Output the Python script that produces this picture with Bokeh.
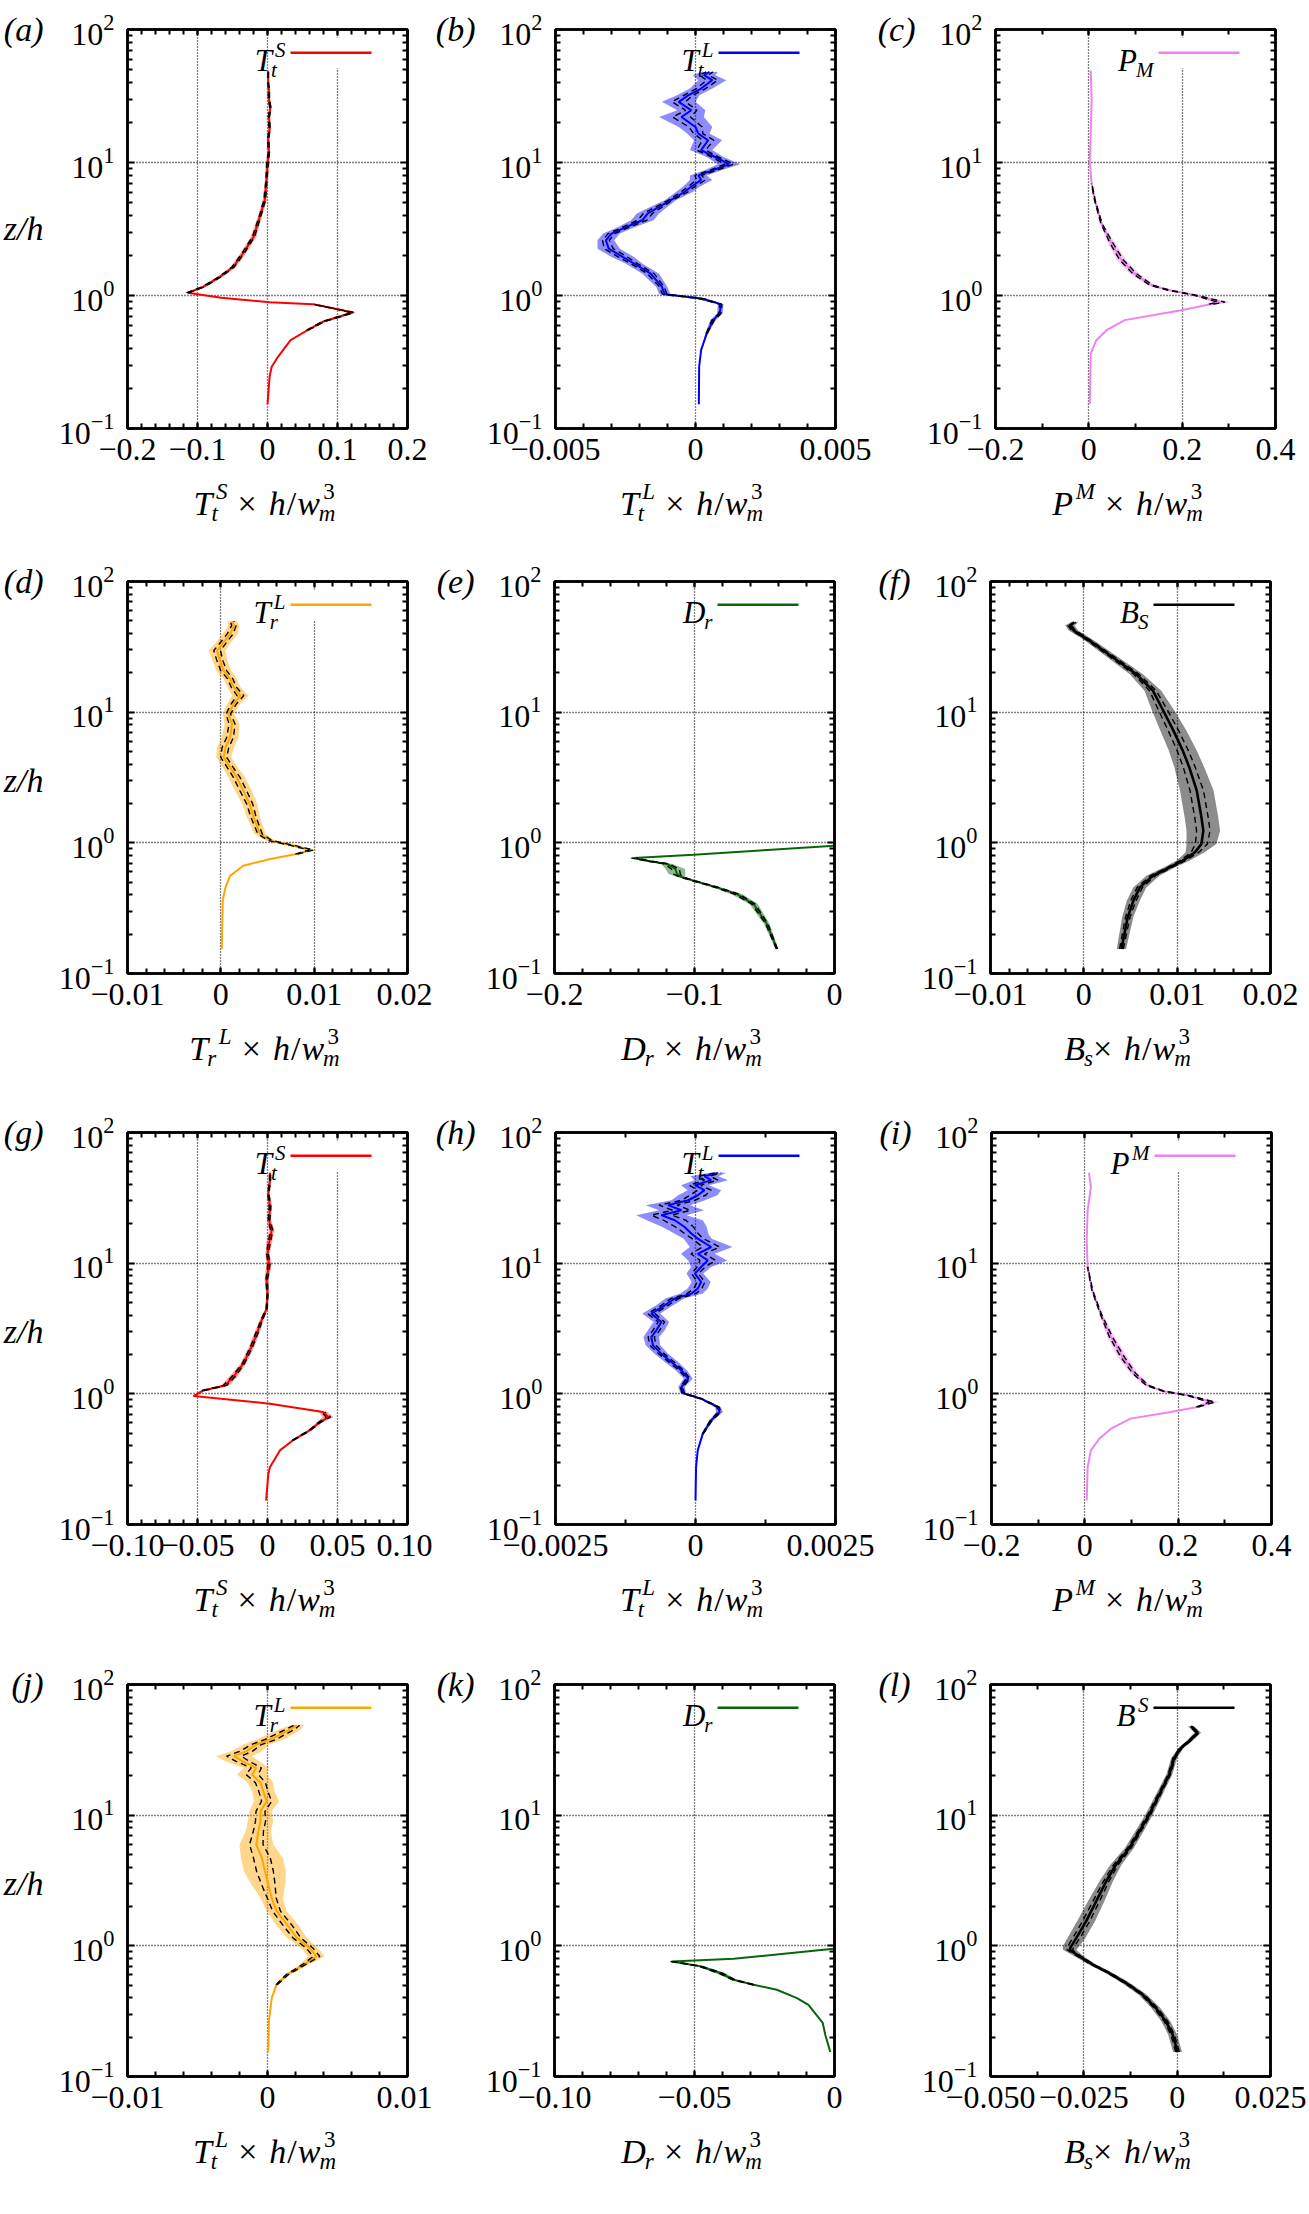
from bokeh.plotting import figure
from bokeh.layouts import row, column
from bokeh.models import (Range1d, FixedTicker, SingleIntervalTicker, LinearAxis, LogAxis,
                          CustomJSTickFormatter, Label, BoxAnnotation)
from bokeh.embed import file_html
from bokeh.resources import INLINE

SERIF = "Liberation Serif"

# ---- profiles: z/h, mean value, spread (half width of the shaded band) ----
a_z = [0.152, 0.245, 0.291, 0.346, 0.461, 0.548, 0.634, 0.745, 0.861, 0.891, 0.96, 1.047, 1.16, 1.38, 1.64, 2.07,
       2.76, 3.9, 5.2, 7.4, 9.8, 12, 15, 18, 22, 26, 30, 35, 40, 45, 49]
a_x = [0, 0.003, 0.006, 0.015, 0.033, 0.057, 0.079, 0.122, 0.065, 0.003, -0.066, -0.114, -0.092, -0.068, -0.049,
       -0.035, -0.020, -0.011, -0.004, -0.0015, 0.0, 0.002, 0.001, 0.003, 0.002, 0.004, 0.002, 0.002, 0.001, 0.001, 0.001]
a_s = [0, 0, 0, 0, 0, 0.003, 0.004, 0.005, 0.003, 0, 0, 0.004, 0.004, 0.004, 0.004, 0.004,
       0.004, 0.003, 0.003, 0.002, 0.003, 0.002, 0.002, 0.002, 0.002, 0.002, 0.002, 0.002, 0.001, 0.001, 0.001]

b_z = [0.152, 0.291, 0.388, 0.518, 0.653, 0.733, 0.861, 0.948, 1.02, 1.16, 1.46, 1.74, 1.95, 2.25, 2.6, 2.92, 3.25,
       3.68, 4.14, 4.64, 5.2, 6.0, 6.6, 7.4, 8.0, 8.7, 9.7, 11.0, 12.4, 14.7, 16.5, 18.5, 22, 24.7, 28.6, 32, 36,
       41.6, 45.4, 48]
b_x = [0.00012, 0.00013, 0.0002, 0.0004, 0.00063, 0.00087, 0.0009, 0.0002, -0.0011, -0.0012, -0.0016, -0.0022,
       -0.0026, -0.0031, -0.0032, -0.003, -0.0025, -0.0019, -0.0017, -0.0013, -0.0009, -0.0004, -0.00014, 0.0002,
       0.0001, 0.0006, 0.0012, 0.0007, 0.0002, 0.00045, 0.0001, 0.0, -0.0005, -0.00015, -0.0006, -0.00026, 0.0002,
       0.0006, 0.0003, 0.0005]
b_s = [0, 0, 0, 0.00005, 0.0001, 0.0001, 0.0001, 0.0002, 0.0002, 0.0002, 0.0003, 0.0003, 0.0004, 0.0004, 0.0003,
       0.0003, 0.0003, 0.0004, 0.0004, 0.0003, 0.0002, 0.0003, 0.0003, 0.0004, 0.0003, 0.0003, 0.0004, 0.0003,
       0.0004, 0.0005, 0.0004, 0.0006, 0.0008, 0.0005, 0.0006, 0.0004, 0.0004, 0.0005, 0.0004, 0.0003]

c_z = [0.152, 0.366, 0.461, 0.548, 0.653, 0.776, 0.861, 0.891, 1.007, 1.1, 1.195, 1.46, 1.85, 2.46, 3.48, 5.2, 6.95,
       10, 16.5, 29.4, 48.9]
c_x = [0.002, 0.004, 0.016, 0.038, 0.077, 0.198, 0.262, 0.284, 0.227, 0.17, 0.134, 0.098, 0.07, 0.049, 0.027, 0.013,
       0.006, 0.002, 0.004, 0.006, 0.004]
c_s = [0, 0, 0, 0, 0, 0, 0.012, 0.02, 0.006, 0.006, 0.008, 0.01, 0.01, 0.008, 0.003, 0.002, 0.001, 0, 0, 0, 0]

d_z = [0.154, 0.36, 0.456, 0.56, 0.668, 0.751, 0.82, 0.881, 0.951, 1.04, 1.17, 1.57, 1.98, 2.51, 3.17, 3.78, 4.52,
       5.38, 6.43, 8.13, 9.7, 11.6, 13.4, 15.5, 18, 20.8, 24.8, 29.6, 34.3, 39.7, 46, 49.7]
d_x = [0.0001, 0.0002, 0.0005, 0.001, 0.0024, 0.0053, 0.0081, 0.0097, 0.0078, 0.0053, 0.0042, 0.0035, 0.0031,
       0.0024, 0.0017, 0.001, 0.0003, 0.0005, 0.001, 0.0012, 0.0008, 0.0014, 0.0021, 0.0014, 0.001, 0.0003, -0.0001,
       -0.0004, 0.0003, 0.001, 0.0014, 0.0012]
d_s = [0, 0, 0, 0, 0, 0, 0.0003, 0.0006, 0.0005, 0.0005, 0.0006, 0.0007, 0.0008, 0.0009, 0.0009, 0.0008, 0.0008,
       0.0009, 0.0009, 0.0008, 0.0006, 0.0007, 0.0009, 0.0007, 0.0007, 0.0008, 0.0008, 0.0009, 0.0008, 0.0008,
       0.0006, 0.0005]

e_z = [0.154, 0.239, 0.34, 0.405, 0.456, 0.513, 0.551, 0.577, 0.631, 0.689, 0.73, 0.766, 0.811, 0.881, 0.951]
e_x = [-0.0411, -0.0483, -0.0578, -0.0697, -0.084, -0.1006, -0.11, -0.1125, -0.1137, -0.1196, -0.134, -0.1434,
       -0.1006, -0.048, 0.0]
e_s = [0.001, 0.002, 0.003, 0.004, 0.003, 0.002, 0.003, 0.006, 0.007, 0.004, 0.003, 0.004, 0, 0, 0]

f_z = [0.154, 0.269, 0.36, 0.456, 0.56, 0.649, 0.73, 0.845, 0.98, 1.24, 1.57, 2.51, 3.78, 5.08, 7.22, 10.3, 14.6,
       19.6, 26.3, 35.3, 42.2, 46, 48.8]
f_x = [0.00403, 0.0047, 0.0053, 0.006, 0.0074, 0.0092, 0.0106, 0.0119, 0.0126, 0.0128, 0.0126, 0.0121, 0.0113,
       0.0106, 0.0096, 0.0085, 0.0074, 0.0056, 0.0031, 0.0006, -0.0011, -0.0015, -0.001]
f_s = [0.0005, 0.0006, 0.0007, 0.0007, 0.0007, 0.0006, 0.0007, 0.001, 0.0016, 0.0018, 0.0018, 0.0018, 0.0016,
       0.0015, 0.0014, 0.0012, 0.0009, 0.0007, 0.0006, 0.0005, 0.0005, 0.0005, 0.0004]

g_z = [0.153, 0.244, 0.275, 0.369, 0.44, 0.525, 0.608, 0.664, 0.726, 0.84, 0.962, 1.06, 1.16, 1.35, 1.70, 2.29,
       2.89, 3.66, 4.49, 5.85, 7.4, 9.9, 11.8, 14.1, 17.9, 21.3, 27, 34.1, 43.2, 49.1]
g_x = [-0.001, 0.0006, 0.0018, 0.0089, 0.018, 0.030, 0.0375, 0.0434, 0.0398, 0.0018, -0.0529, -0.046, -0.0303,
       -0.0244, -0.0173, -0.0114, -0.0077, -0.0042, -0.0006, 0.0, -0.0006, 0.0011, 0.0, 0.0011, 0.003, 0.0011,
       0.0018, 0.0006, 0.0018, 0.0018]
g_s = [0, 0, 0, 0, 0.001, 0.0015, 0.002, 0.004, 0.003, 0, 0, 0.002, 0.003, 0.003, 0.002, 0.002, 0.002, 0.0015,
       0.001, 0.001, 0.0015, 0.002, 0.0015, 0.002, 0.002, 0.0015, 0.0015, 0.001, 0.001, 0.001]

h_z = [0.153, 0.275, 0.369, 0.495, 0.626, 0.726, 0.793, 0.918, 1.01, 1.13, 1.31, 1.51, 1.75, 2.03, 2.35, 2.72, 3.06,
       3.55, 4.11, 4.76, 5.36, 5.85, 6.39, 7.18, 8.32, 9.35, 10.5, 11.8, 13.3, 15.4, 16.8, 19, 21.3, 23.3, 25.4,
       27.8, 30.3, 33.1, 36.2, 39.5, 43.2, 46.3, 49.1]
h_x = [0, 0.00001, 0.00004, 0.00013, 0.00028, 0.00043, 0.0004, 0.0001, -0.00022, -0.00025, -0.00013, -0.00025,
       -0.00043, -0.00061, -0.00076, -0.00079, -0.0007, -0.00061, -0.00079, -0.00055, -0.00037, -0.00007, 0.00004,
       0.0001, -0.00001, 0.0001, 0.00022, 0.00004, 0.00028, 0.00004, -0.00007, -0.0002, -0.00037, -0.00061,
       -0.00025, -0.00049, -0.00013, 0.00004, 0.00016, -0.00001, 0.00028, 0.00016, 0.0004]
h_s = [0, 0, 0, 0.00002, 0.00004, 0.00006, 0.00005, 0.00003, 0.00005, 0.00006, 0.00008, 0.0001, 0.00012, 0.00012,
       0.00013, 0.00014, 0.00015, 0.00014, 0.00016, 0.00015, 0.00017, 0.0002, 0.00018, 0.00017, 0.00015, 0.00018,
       0.00035, 0.0003, 0.00038, 0.00025, 0.0003, 0.0004, 0.0005, 0.00045, 0.0004, 0.0004, 0.0003, 0.00035, 0.0003,
       0.00025, 0.0003, 0.00025, 0.00015]

i_z = [0.153, 0.275, 0.369, 0.453, 0.541, 0.646, 0.726, 0.793, 0.865, 0.973, 1.045, 1.16, 1.43, 1.91, 2.72, 4.11,
       6.2, 9.35, 15, 25.4, 38.4, 49.1]
i_x = [0.004, 0.006, 0.013, 0.031, 0.056, 0.098, 0.184, 0.241, 0.273, 0.22, 0.17, 0.134, 0.106, 0.081, 0.056, 0.034,
       0.016, 0.006, 0.004, 0.006, 0.013, 0.009]
i_s = [0, 0, 0, 0, 0, 0, 0, 0.005, 0.015, 0.006, 0.005, 0.006, 0.008, 0.01, 0.008, 0.003, 0.002, 0.001, 0, 0, 0, 0]

j_z = [0.154, 0.264, 0.398, 0.504, 0.601, 0.717, 0.83, 0.962, 1.15, 1.45, 1.84, 2.32, 2.94, 3.72, 4.7, 5.96, 7.53,
       8.98, 10.7, 12.8, 15.2, 17.7, 20.5, 23, 25.9, 28.3, 30.9, 34.7, 37.9, 41.4, 45.2, 48.8]
j_x = [0.00006, 0.0001, 0.0003, 0.00065, 0.0014, 0.0026, 0.0035, 0.003, 0.0021, 0.0014, 0.00065, 0.0003, 0.00006,
       -0.00018, -0.0004, -0.0008, -0.00065, -0.0005, -0.0005, -0.00006, -0.0003, -0.0005, -0.0011, -0.0008,
       -0.0018, -0.0024, -0.0015, -0.0008, 0.0002, 0.0009, 0.0016, 0.0021]
j_s = [0, 0, 0, 0.0001, 0.0002, 0.0003, 0.0006, 0.0006, 0.0007, 0.0008, 0.0007, 0.0008, 0.0012, 0.0015, 0.0015,
       0.0012, 0.0009, 0.0009, 0.0008, 0.0009, 0.0008, 0.0009, 0.0011, 0.0009, 0.0012, 0.0013, 0.0011, 0.0009,
       0.001, 0.0009, 0.0008, 0.0005]

k_z = [0.154, 0.209, 0.257, 0.354, 0.398, 0.461, 0.504, 0.55, 0.619, 0.697, 0.726, 0.76, 0.796, 0.951]
k_x = [-0.0015, -0.0033, -0.0042, -0.0093, -0.0134, -0.0206, -0.0289, -0.036, -0.0408, -0.0479, -0.0527, -0.058,
       -0.036, -0.0004]
k_s = [0, 0, 0, 0, 0, 0, 0.0005, 0.001, 0.0018, 0.0012, 0.001, 0.0015, 0, 0]

l_z = [0.154, 0.209, 0.264, 0.334, 0.422, 0.519, 0.619, 0.718, 0.83, 0.933, 0.991, 1.15, 1.54, 2.19, 3.12, 4.18,
       5.61, 7.53, 10.1, 14.4, 20.5, 27.4, 32.7, 36.8, 42.7, 48]
l_x = [0.0001, -0.0012, -0.003, -0.0057, -0.0092, -0.0137, -0.0182, -0.0226, -0.0262, -0.0288, -0.0284, -0.027,
       -0.0244, -0.0217, -0.019, -0.0164, -0.0128, -0.0101, -0.0075, -0.0048, -0.0021, -0.0008, 0.001, 0.0032,
       0.0055, 0.0037]
l_s = [0.0012, 0.0012, 0.0012, 0.0012, 0.0011, 0.0011, 0.001, 0.001, 0.0012, 0.0018, 0.0022, 0.0024, 0.0024,
       0.0022, 0.0018, 0.0015, 0.0012, 0.0011, 0.001, 0.0009, 0.0008, 0.0008, 0.0007, 0.0008, 0.0009, 0.0008]

# y axis ticks (decades)
y_major = [0.1, 1, 10, 100]
y_minor = [m * 10.0 ** e for e in (-1, 0, 1) for m in range(2, 10)]

# ---- math-like labels built from pieces ----
IT = {'T': .556, 'S': .5, 't': .278, 'L': .556, 'r': .389, 'P': .611, 'M': .833, 'D': .722, 'B': .611,
      's': .389, 'h': .5, 'w': .667, 'm': .722}
RM = {'×': .564, '/': .278, '3': .5}


def tw(text, italic, size):
    tab = IT if italic else RM
    return sum(tab.get(ch, 0.5) for ch in text) * size


def layout(tokens, size):
    sm = round(size * 0.68)
    up, dn = size * 0.34, size * 0.3
    out, cx = [], 0.0
    for tok in tokens:
        kind = tok[0]
        if kind == "g":
            cx += tok[1] * size
        elif kind in ("i", "n"):
            out.append((tok[1], cx, 0, size, "italic" if kind == "i" else "normal"))
            cx += tw(tok[1], kind == "i", size)
        elif kind == "sup":
            cx += 0.08 * size
            out.append((tok[1], cx, up, sm, "italic"))
            cx += tw(tok[1], True, sm)
        elif kind == "sub":
            cx -= 0.03 * size
            out.append((tok[1], cx, -dn, sm, "italic"))
            cx += tw(tok[1], True, sm)
        else:  # stacked superscript / subscript
            sup_t, sub_t, sup_it = tok[1], tok[2], tok[3]
            out.append((sup_t, cx + 0.1 * size, up, sm, "italic" if sup_it else "normal"))
            out.append((sub_t, cx - 0.03 * size, -dn, sm, "italic"))
            cx += max(tw(sup_t, sup_it, sm) + 0.1 * size, tw(sub_t, True, sm) - 0.03 * size)
    return out, cx


def rich(p, tokens, x, y, size, align="left"):
    pieces, w = layout(tokens, size)
    x0 = x - w / 2 if align == "center" else (x - w if align == "right" else x)
    for text, dx, dy, fs, style in pieces:
        p.add_layout(Label(x=x0 + dx, y=y + dy, x_units="screen", y_units="screen", text=text,
                           text_font=SERIF, text_font_size=f"{fs}px", text_font_style=style,
                           text_baseline="alphabetic", text_align="left", text_color="black"))


TtS = [("i", "T"), ("ss", "S", "t", True)]
TtL = [("i", "T"), ("ss", "L", "t", True)]
TrLs = [("i", "T"), ("ss", "L", "r", True)]
TrL = [("i", "T"), ("sub", "r"), ("sup", "L")]
PMsup = [("i", "P"), ("sup", "M")]
PMsub = [("i", "P"), ("sub", "M")]
Dr = [("i", "D"), ("sub", "r")]
Bs = [("i", "B"), ("sub", "s")]
BSsub = [("i", "B"), ("sub", "S")]
BSsup = [("i", "B"), ("sup", "S")]
TAIL = [("g", .3), ("n", "×"), ("g", .35), ("i", "h"), ("g", .03), ("n", "/"), ("g", .03), ("i", "w"),
        ("ss", "3", "m", False)]
TAIL2 = [("n", "×"), ("g", .35), ("i", "h"), ("g", .03), ("n", "/"), ("g", .03), ("i", "w"),
         ("ss", "3", "m", False)]

panels = [
    dict(tag="a", z=a_z, x=a_x, s=a_s, color="#ff0000", xr=(-0.2, 0.2), step=0.1, nminor=5, dec=1,
         leg=TtS, lab=TtS + TAIL, box=True),
    dict(tag="b", z=b_z, x=b_x, s=b_s, color="#0000ff", xr=(-0.005, 0.005), step=0.005, nminor=5, dec=3,
         leg=TtL, lab=TtL + TAIL, box=True),
    dict(tag="c", z=c_z, x=c_x, s=c_s, color="#ee82ee", xr=(-0.2, 0.4), step=0.2, nminor=2, dec=1,
         leg=PMsub, lab=PMsup + TAIL, box=True),
    dict(tag="d", z=d_z, x=d_x, s=d_s, color="#ffa500", xr=(-0.01, 0.02), step=0.01, nminor=5, dec=2,
         leg=TrLs, lab=TrL + TAIL, box=True),
    dict(tag="e", z=e_z, x=e_x, s=e_s, color="#0a640a", xr=(-0.2, 0.0), step=0.1, nminor=5, dec=1,
         leg=Dr, lab=Dr + TAIL, box=True),
    dict(tag="f", z=f_z, x=f_x, s=f_s, color="#000000", xr=(-0.01, 0.02), step=0.01, nminor=5, dec=2,
         leg=BSsub, lab=Bs + TAIL2, box=False),
    dict(tag="g", z=g_z, x=g_x, s=g_s, color="#ff0000", xr=(-0.1, 0.1), step=0.05, nminor=5, dec=2,
         leg=TtS, lab=TtS + TAIL, box=True),
    dict(tag="h", z=h_z, x=h_x, s=h_s, color="#0000ff", xr=(-0.0025, 0.0025), step=0.0025, nminor=2, dec=4,
         leg=TtL, lab=TtL + TAIL, box=True),
    dict(tag="i", z=i_z, x=i_x, s=i_s, color="#ee82ee", xr=(-0.2, 0.4), step=0.2, nminor=2, dec=1,
         leg=PMsup, lab=PMsup + TAIL, box=True),
    dict(tag="j", z=j_z, x=j_x, s=j_s, color="#ffa500", xr=(-0.01, 0.01), step=0.01, nminor=5, dec=2,
         leg=TrLs, lab=TtL + TAIL, box=True),
    dict(tag="k", z=k_z, x=k_x, s=k_s, color="#0a640a", xr=(-0.1, 0.0), step=0.05, nminor=5, dec=2,
         leg=Dr, lab=Dr + TAIL, box=True),
    dict(tag="l", z=l_z, x=l_x, s=l_s, color="#000000", xr=(-0.05, 0.025), step=0.025, nminor=2, dec=3,
         leg=BSsup, lab=Bs + TAIL2, box=False),
]

# page layout (pixels): per row the plots, then a strip holding the x-axis titles
FRAME_W = 280
FRAME_H = [399, 392, 392, 392]
TOP = [29, 29, 28, 28]
BOTTOM = 46
STRIP_H = [78, 85, 86, 92]
BORDER_L = [124, 122, 117]
BORDER_R = [25, 39, 42]
ZH_AT = [3.2, 3.0, 3.0, 3.0]   # height on the z/h scale where the "z/h" caption sits

FMT = """
if (Math.abs(tick) < 1e-12) return "0";
const s = Math.abs(tick).toFixed(dec);
return (tick < 0 ? "\\u2212" : "") + s;
"""
BLANK = "return '';"
CAPTION = "return tick > 50 ? tag : 'z/h';"


def style_axis(ax, tick_in):
    ax.axis_line_width = 2.5
    ax.axis_line_color = "black"
    ax.major_tick_in = tick_in
    ax.major_tick_out = 0
    ax.minor_tick_in = 5
    ax.minor_tick_out = 0
    ax.major_tick_line_width = 2
    ax.minor_tick_line_width = 2
    ax.major_tick_line_color = "black"
    ax.minor_tick_line_color = "black"
    ax.major_label_text_font = SERIF
    ax.major_label_text_font_size = "32px"
    ax.major_label_text_font_style = "normal"
    ax.major_label_text_color = "black"


def strip(w, h):
    s = figure(width=w, height=h, x_range=Range1d(0, 1), y_range=Range1d(0, 1), output_backend="svg",
               toolbar_location=None, x_axis_location=None, y_axis_location=None,
               min_border_left=0, min_border_right=0, min_border_top=0, min_border_bottom=0,
               outline_line_color=None, background_fill_color="white", border_fill_color="white")
    s.grid.visible = False
    return s


def make_plot(sp, r, col):
    fh = FRAME_H[r]
    p = figure(frame_width=FRAME_W, frame_height=fh, x_range=Range1d(*sp["xr"]), y_range=Range1d(0.1, 100),
               y_axis_type="log", output_backend="svg", toolbar_location=None,
               min_border_left=BORDER_L[col], min_border_right=BORDER_R[col],
               min_border_top=TOP[r], min_border_bottom=BOTTOM,
               background_fill_color="white", border_fill_color="white")
    p.outline_line_color = "black"
    p.outline_line_width = 2.5

    xt = SingleIntervalTicker(interval=sp["step"], num_minor_ticks=sp["nminor"])
    yt = FixedTicker(ticks=y_major, minor_ticks=y_minor)
    p.xaxis.ticker = xt
    p.xaxis.formatter = CustomJSTickFormatter(code=FMT, args=dict(dec=sp["dec"]))
    p.yaxis.ticker = yt
    style_axis(p.xaxis[0], 6)
    style_axis(p.yaxis[0], 7)
    p.xaxis.major_label_standoff = 10
    p.yaxis.major_label_standoff = 13

    top = LinearAxis(ticker=xt, formatter=CustomJSTickFormatter(code=BLANK))
    style_axis(top, 6)
    top.major_label_standoff = 0
    p.add_layout(top, "above")
    right = LogAxis(ticker=yt, formatter=CustomJSTickFormatter(code=BLANK))
    style_axis(right, 7)
    right.major_label_standoff = 0
    p.add_layout(right, "right")

    # panel tag (and z/h in the first column) as labels of a bare extra axis on the left
    cap_ticks = [100, ZH_AT[r]] if col == 0 else [100]
    cap = LinearAxis(ticker=FixedTicker(ticks=cap_ticks, minor_ticks=[]),
                     formatter=CustomJSTickFormatter(code=CAPTION, args=dict(tag=f"({sp['tag']})")))
    cap.axis_line_color = None
    cap.major_tick_line_color = None
    cap.minor_tick_line_color = None
    cap.major_tick_in = 0
    cap.major_tick_out = 0
    cap.major_label_standoff = 12 if col == 0 else 8
    cap.major_label_text_font = SERIF
    cap.major_label_text_font_size = "34px"
    cap.major_label_text_font_style = "italic"
    cap.major_label_text_color = "black"
    p.add_layout(cap, "left")

    for g in (p.xgrid[0], p.ygrid[0]):
        g.grid_line_color = "black"
        g.grid_line_dash = "1 2"
        g.grid_line_width = 1.3
        g.grid_line_alpha = 1
    p.xgrid.ticker = xt
    p.ygrid.ticker = yt

    # legend area (over the grid, under the axes)
    if sp["box"]:
        p.add_layout(BoxAnnotation(left=FRAME_W - 122, right=FRAME_W - 8, top=fh - 8, bottom=fh - 39,
                                   left_units="screen", right_units="screen", top_units="screen",
                                   bottom_units="screen", fill_color="white", fill_alpha=1,
                                   line_color=None, level="underlay"))

    z, m, s = sp["z"], sp["x"], sp["s"]
    lo = [v - w for v, w in zip(m, s)]
    hi = [v + w for v, w in zip(m, s)]
    dlo = [v - 0.4 * w if w > 0 else float("nan") for v, w in zip(m, s)]
    dhi = [v + 0.4 * w if w > 0 else float("nan") for v, w in zip(m, s)]
    band_alpha = 0.45 if sp["color"] != "#ff0000" else 0.35
    p.harea(y=z, x1=lo, x2=hi, fill_color=sp["color"], fill_alpha=band_alpha)
    lw = 2.6 if sp["color"] == "#000000" else 2
    p.line(m, z, line_color=sp["color"], line_width=lw)
    p.line(dlo, z, line_color="black", line_width=1.4, line_dash="6 4")
    p.line(dhi, z, line_color="black", line_width=1.4, line_dash="6 4")

    # legend sample line and text
    p.add_layout(BoxAnnotation(left=FRAME_W - 117, right=FRAME_W - 36, top=fh - 22, bottom=fh - 24.5,
                               left_units="screen", right_units="screen", top_units="screen",
                               bottom_units="screen", fill_color=sp["color"], fill_alpha=1, line_color=None))
    rich(p, sp["leg"], FRAME_W - 122, fh - 31, 31, align="right")
    return p


rows = []
for r in range(4):
    plot_row, label_row = [], []
    for col in range(3):
        sp = panels[r * 3 + col]
        plot_w = BORDER_L[col] + FRAME_W + BORDER_R[col]
        lab = strip(plot_w, STRIP_H[r])
        rich(lab, sp["lab"], BORDER_L[col] + FRAME_W / 2, STRIP_H[r] - 29, 34, align="center")
        plot_row.append(make_plot(sp, r, col))
        label_row.append(lab)
    rows += [row(*plot_row), row(*label_row)]

page = column(*rows)
open("out.html", "w").write(file_html(page, INLINE))
